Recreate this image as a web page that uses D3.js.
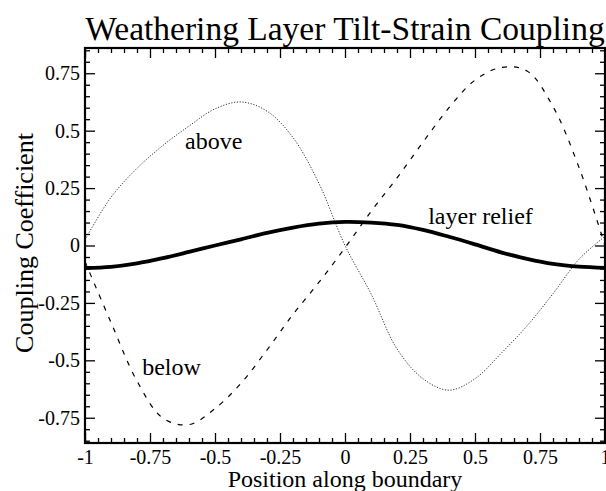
<!DOCTYPE html>
<html>
<head>
<meta charset="utf-8">
<script src="https://cdn.jsdelivr.net/npm/d3@7"></script>
<style>
	body { margin: 0; background: #fff; }
	svg { display: block; font-family: "Liberation Serif", "Times New Roman", serif; }
</style>
</head>
<body>
<div id="chart"></div>
<script>
// positions along the boundary
const positions = [-1, -0.9, -0.8, -0.7, -0.6, -0.5, -0.4, -0.3, -0.2, -0.1, 0,
	0.1, 0.2, 0.3, 0.4, 0.5, 0.6, 0.7, 0.8, 0.9, 1];

// coupling coefficients
const above = [0.025, 0.21, 0.336, 0.436, 0.52, 0.595, 0.625, 0.585, 0.47, 0.27, 0.0,
	-0.21, -0.45, -0.58, -0.63, -0.58, -0.47, -0.35, -0.21, -0.06, 0.04];
const below = [-0.07, -0.335, -0.59, -0.752, -0.78, -0.71, -0.6, -0.455, -0.3, -0.16, -0.01,
	0.148, 0.294, 0.45, 0.6, 0.72, 0.775, 0.76, 0.605, 0.34, 0.0];
const relief = [-0.098, -0.093, -0.078, -0.055, -0.028, 0.0, 0.027, 0.055, 0.078, 0.095, 0.103,
	0.1, 0.09, 0.068, 0.038, 0.005, -0.03, -0.058, -0.08, -0.092, -0.097];

// tick labels
const xTicks = [-1, -0.75, -0.5, -0.25, 0, 0.25, 0.5, 0.75, 1];
const xTickLabels = ["-1", "-0.75", "-0.5", "-0.25", "0", "0.25", "0.5", "0.75", "1"];
const yTicks = [-0.75, -0.5, -0.25, 0, 0.25, 0.5, 0.75];
const yTickLabels = ["-0.75", "-0.5", "-0.25", "0", "0.25", "0.5", "0.75"];

const width = 606, height = 491;
const margin = { left: 85, right: 605, top: 48, bottom: 443 };

const svg = d3.select("#chart").append("svg")
	.attr("width", width)
	.attr("height", height);

const x = d3.scaleLinear().domain([-1, 1]).range([margin.left, margin.right]);
const y = d3.scaleLinear().domain([-0.86, 0.86]).range([margin.bottom, margin.top]);

const xMinor = d3.range(-0.95, 1, 0.05).filter(v => Math.abs(v * 4 - Math.round(v * 4)) > 1e-6);
const yMinor = d3.range(-0.85, 0.86, 0.05).filter(v => Math.abs(v * 4 - Math.round(v * 4)) > 1e-6);

// axes, ticks pointing inward on all four sides
function addAxis(axis, tx, ty, withLabels) {
	const g = svg.append("g")
		.attr("transform", "translate(" + tx + "," + ty + ")")
		.call(axis);
	g.select(".domain").remove();
	g.selectAll("line").attr("stroke", "#000").attr("stroke-width", 1.3);
	g.selectAll("text")
		.attr("fill", "#000")
		.style("font-size", "20px")
		.style("font-family", "'Liberation Serif', serif");
	if (!withLabels) g.selectAll("text").remove();
	return g;
}

const xFmt = d => xTickLabels[xTicks.indexOf(d)];
const yFmt = d => yTickLabels[yTicks.indexOf(d)];

addAxis(d3.axisBottom(x).tickValues(xTicks).tickFormat(xFmt).tickSize(-10).tickPadding(7), 0, margin.bottom, true);
addAxis(d3.axisBottom(x).tickValues(xMinor).tickFormat("").tickSize(-5), 0, margin.bottom, false);
addAxis(d3.axisTop(x).tickValues(xTicks).tickSize(-10), 0, margin.top, false);
addAxis(d3.axisTop(x).tickValues(xMinor).tickSize(-5), 0, margin.top, false);

addAxis(d3.axisLeft(y).tickValues(yTicks).tickFormat(yFmt).tickSize(-10).tickPadding(5), margin.left, 0, true);
addAxis(d3.axisLeft(y).tickValues(yMinor).tickFormat("").tickSize(-5), margin.left, 0, false);
addAxis(d3.axisRight(y).tickValues(yTicks).tickSize(-10), margin.right, 0, false);
addAxis(d3.axisRight(y).tickValues(yMinor).tickSize(-5), margin.right, 0, false);

// frame
svg.append("rect")
	.attr("x", margin.left)
	.attr("y", margin.top)
	.attr("width", margin.right - margin.left)
	.attr("height", margin.bottom - margin.top)
	.attr("fill", "none")
	.attr("stroke", "#000")
	.attr("stroke-width", 2.2);

// curves
const line = d3.line()
	.x((d, i) => x(positions[i]))
	.y(d => y(d))
	.curve(d3.curveCatmullRom);

svg.append("path")
	.datum(above)
	.attr("d", line)
	.attr("fill", "none")
	.attr("stroke", "#333")
	.attr("stroke-width", 1)
	.attr("stroke-dasharray", "1.2,1.6");

svg.append("path")
	.datum(below)
	.attr("d", line)
	.attr("fill", "none")
	.attr("stroke", "#000")
	.attr("stroke-width", 1.2)
	.attr("stroke-dasharray", "5,7");

svg.append("path")
	.datum(relief)
	.attr("d", line)
	.attr("fill", "none")
	.attr("stroke", "#000")
	.attr("stroke-width", 3.8);

// curve labels
const labels = [
	{ text: "above", px: -0.615, py: 0.42 },
	{ text: "below", px: -0.78, py: -0.565 },
	{ text: "layer relief", px: 0.32, py: 0.095 }
];
svg.selectAll(".curve-label")
	.data(labels)
	.enter().append("text")
	.attr("class", "curve-label")
	.attr("x", d => x(d.px))
	.attr("y", d => y(d.py))
	.style("font-size", "24px")
	.text(d => d.text);

// titles
svg.append("text")
	.attr("x", 345)
	.attr("y", 40)
	.attr("text-anchor", "middle")
	.style("font-size", "33.5px")
	.text("Weathering Layer Tilt-Strain Coupling");

svg.append("text")
	.attr("x", 345)
	.attr("y", 487)
	.attr("text-anchor", "middle")
	.style("font-size", "24px")
	.text("Position along boundary");

svg.append("text")
	.attr("transform", "translate(33,243) rotate(-90)")
	.attr("text-anchor", "middle")
	.style("font-size", "26px")
	.text("Coupling Coefficient");
</script>
</body>
</html>
